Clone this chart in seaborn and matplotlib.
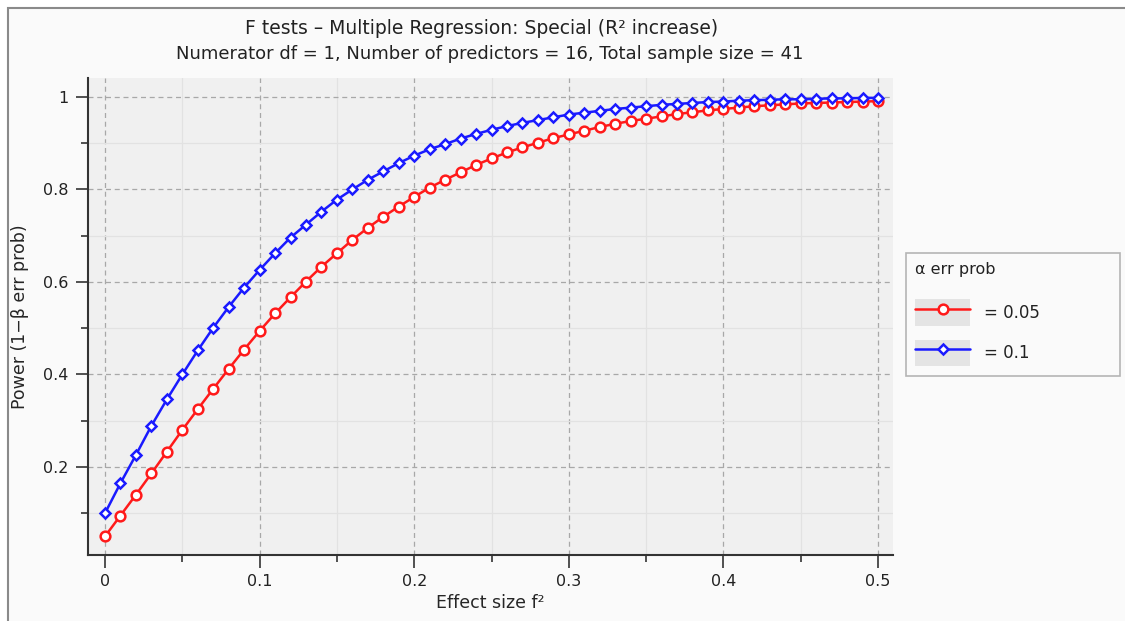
import pandas as pd
import matplotlib
matplotlib.use("Agg")
import matplotlib.pyplot as plt
import seaborn as sns
from matplotlib.legend_handler import HandlerLine2D
from matplotlib.patches import Rectangle
from matplotlib.ticker import MultipleLocator, FixedLocator


# effect size f^2 on the x axis
effect_size = [0.00, 0.01, 0.02, 0.03, 0.04, 0.05, 0.06, 0.07, 0.08, 0.09,
               0.10, 0.11, 0.12, 0.13, 0.14, 0.15, 0.16, 0.17, 0.18, 0.19,
               0.20, 0.21, 0.22, 0.23, 0.24, 0.25, 0.26, 0.27, 0.28, 0.29,
               0.30, 0.31, 0.32, 0.33, 0.34, 0.35, 0.36, 0.37, 0.38, 0.39,
               0.40, 0.41, 0.42, 0.43, 0.44, 0.45, 0.46, 0.47, 0.48, 0.49,
               0.50]

# power, alpha = 0.05
power_a05 = [0.050, 0.095, 0.140, 0.186, 0.233, 0.280, 0.325, 0.369, 0.412, 0.454,
             0.494, 0.532, 0.567, 0.601, 0.633, 0.662, 0.691, 0.717, 0.741, 0.763,
             0.784, 0.804, 0.821, 0.837, 0.853, 0.867, 0.880, 0.891, 0.901, 0.911,
             0.919, 0.927, 0.935, 0.942, 0.948, 0.953, 0.958, 0.963, 0.967, 0.971,
             0.974, 0.977, 0.980, 0.982, 0.984, 0.986, 0.987, 0.988, 0.989, 0.990,
             0.991]

# power, alpha = 0.1
power_a10 = [0.100, 0.165, 0.226, 0.289, 0.346, 0.400, 0.452, 0.501, 0.546, 0.588,
             0.626, 0.662, 0.696, 0.724, 0.752, 0.778, 0.800, 0.821, 0.839, 0.857,
             0.873, 0.887, 0.898, 0.910, 0.920, 0.929, 0.937, 0.944, 0.950, 0.956,
             0.962, 0.966, 0.970, 0.974, 0.977, 0.980, 0.983, 0.985, 0.987, 0.989,
             0.990, 0.992, 0.993, 0.994, 0.995, 0.995, 0.996, 0.997, 0.997, 0.998,
             0.998]

series_labels = ["= 0.05", "= 0.1"]
series_colors = ["#ff1a1a", "#1a1aff"]
series_markers = ["o", "D"]

x_ticks = [0, 0.1, 0.2, 0.3, 0.4, 0.5]
x_tick_labels = ["0", "0.1", "0.2", "0.3", "0.4", "0.5"]
y_ticks = [0.2, 0.4, 0.6, 0.8, 1.0]
y_tick_labels = ["0.2", "0.4", "0.6", "0.8", "1"]


class BoxedLine(HandlerLine2D):
    # legend handle drawn on a light grey box like the original
    def create_artists(self, legend, orig_handle, xdescent, ydescent,
                       width, height, fontsize, trans):
        box = Rectangle((-xdescent, -ydescent), width, height,
                        facecolor="#e4e4e4", edgecolor="none", transform=trans)
        arts = super().create_artists(legend, orig_handle, xdescent, ydescent,
                                      width, height, fontsize, trans)
        return [box] + list(arts)


def main():
    sns.set_theme(style="ticks")
    plt.rcParams["font.family"] = ["DejaVu Sans"]
    plt.rcParams["text.color"] = "#222222"

    df = pd.DataFrame({
        "f2": effect_size * 2,
        "power": power_a05 + power_a10,
        "alpha": [series_labels[0]] * len(effect_size) + [series_labels[1]] * len(effect_size),
    })

    fig = plt.figure(figsize=(11.25, 6.21), dpi=100)
    fig.patch.set_facecolor("white")
    fig.add_artist(Rectangle((8 / 1125, -0.02), 1.05, (621 - 7.5) / 621 + 0.02,
                             transform=fig.transFigure, facecolor="#fafafa",
                             edgecolor="#8a8a8a", linewidth=1.5, zorder=-5))

    ax = fig.add_axes([88 / 1125, (621 - 555) / 621, (893 - 88) / 1125, (555 - 78) / 621])
    ax.set_facecolor("#f0f0f0")

    for lab, col, mk in zip(series_labels, series_colors, series_markers):
        sub = df[df["alpha"] == lab]
        sns.lineplot(data=sub, x="f2", y="power", ax=ax, color=col, label=lab,
                     marker=mk, markersize=7 if mk == "o" else 5.5,
                     markerfacecolor="white", markeredgecolor=col,
                     markeredgewidth=1.8, linewidth=1.8, zorder=3)

    if ax.get_legend() is not None:
        ax.get_legend().remove()

    ax.set_xlim(-0.011, 0.5097)
    ax.set_ylim(0.0097, 1.041)

    ax.xaxis.set_major_locator(FixedLocator(x_ticks))
    ax.set_xticklabels(x_tick_labels)
    ax.xaxis.set_minor_locator(MultipleLocator(0.05))
    ax.yaxis.set_major_locator(FixedLocator(y_ticks))
    ax.set_yticklabels(y_tick_labels)
    ax.yaxis.set_minor_locator(MultipleLocator(0.1))

    ax.grid(which="major", color="#a8a8a8", linestyle=(0, (4, 3)), linewidth=0.9)
    ax.grid(which="minor", color="#e2e2e2", linestyle="-", linewidth=0.9)
    ax.set_axisbelow(True)

    for side in ["top", "right"]:
        ax.spines[side].set_visible(False)
    for side in ["left", "bottom"]:
        ax.spines[side].set_color("#333333")
        ax.spines[side].set_linewidth(1.5)

    ax.tick_params(which="major", length=9, width=1.2, color="#333333",
                   labelsize=11.5, labelcolor="#222222", pad=5)
    ax.tick_params(which="minor", length=5, width=1.2, color="#333333")

    ax.set_xlabel("Effect size f²", fontsize=12.5, labelpad=3)
    ax.set_ylabel("Power (1−β err prob)", fontsize=12.5, labelpad=10)

    fig.text(482 / 1125, 1 - 28 / 621, "F tests \u2013 Multiple Regression: Special (R² increase)",
             ha="center", va="center", fontsize=13.5)
    fig.text(490 / 1125, 1 - 54 / 621,
             "Numerator df = 1, Number of predictors = 16, Total sample size = 41",
             ha="center", va="center", fontsize=13)

    handles, labels = ax.get_legend_handles_labels()
    leg = fig.legend(handles, labels, title="α err prob", loc="upper left",
                     bbox_to_anchor=(906 / 1125, 1 - 253 / 621, 214 / 1125, 0),
                     mode="expand",
                     frameon=True, fancybox=False, fontsize=12, title_fontsize=11.5,
                     alignment="left", handlelength=3.3, handleheight=2.1,
                     handletextpad=0.8, labelspacing=0.8, borderpad=0.55,
                     borderaxespad=0, numpoints=1,
                     handler_map={h: BoxedLine() for h in handles})
    leg.get_frame().set_edgecolor("#b5b5b5")
    leg.get_frame().set_facecolor("#fafafa")
    leg.get_frame().set_linewidth(1.2)
    leg.get_frame().set_alpha(1)
    leg._legend_box.sep = 16

    fig.savefig("out.png", dpi=100)
    plt.close(fig)


if __name__ == "__main__":
    main()
